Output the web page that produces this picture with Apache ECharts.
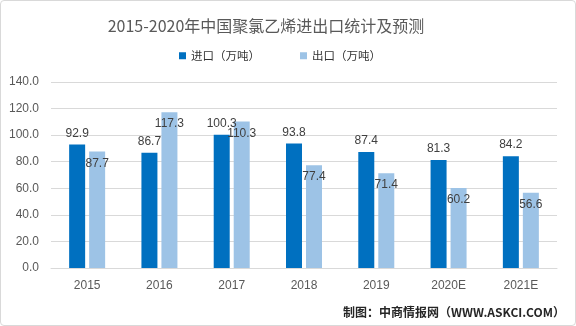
<!DOCTYPE html>
<html><head><meta charset="utf-8">
<script src="https://cdn.jsdelivr.net/npm/echarts@6/dist/echarts.min.js"></script>
<style>html,body{margin:0;padding:0;background:#fff}#c{width:574px;height:324px;border:1px solid #d9d9d9;border-radius:4px}</style>
</head><body><div id="c"></div>
<script>
const categories = ['2015','2016','2017','2018','2019','2020E','2021E'];
const importValues = [92.9, 86.7, 100.3, 93.8, 87.4, 81.3, 84.2];
const exportValues = [87.7, 117.3, 110.3, 77.4, 71.4, 60.2, 56.6];
const seriesNames = ['进口（万吨）','出口（万吨）'];
const titleText = '2015-2020年中国聚氯乙烯进出口统计及预测';
const sourceText = '制图：中商情报网（WWW.ASKCI.COM）';

const chart = echarts.init(document.getElementById('c'));
const numFont = 'Liberation Sans, Noto Sans, sans-serif';
chart.setOption({
  animation: false,
  title: {text: titleText, left: 260, textAlign: 'center', top: 12,
    textStyle: {fontFamily: 'Noto Sans CJK SC', fontSize: 16, fontWeight: 'normal', color: '#595959'}},
  legend: {top: 44, left: 173, itemWidth: 7, itemHeight: 7, itemGap: 40, icon: 'rect',
    textStyle: {fontFamily: 'Noto Sans CJK SC', fontSize: 11.5, color: '#333333'},
    data: seriesNames},
  grid: {left: 50, right: 18, top: 81, bottom: 57},
  xAxis: {type: 'category', data: categories,
    axisLine: {lineStyle: {color: '#d9d9d9'}}, axisTick: {show: false},
    axisLabel: {color: '#595959', fontFamily: numFont, fontSize: 12, margin: 12}},
  yAxis: {type: 'value', min: 0, max: 140, interval: 20,
    axisLabel: {color: '#595959', fontFamily: numFont, fontSize: 12, margin: 12, formatter: v => v.toFixed(1)},
    splitLine: {lineStyle: {color: '#d9d9d9'}}, axisLine: {show: false}},
  series: [
    {name: seriesNames[0], type: 'bar', data: importValues, barWidth: 16, barGap: '25%',
     itemStyle: {color: '#0070C0'},
     label: {show: true, position: 'top', distance: 5, color: '#404040', fontFamily: numFont, fontSize: 12, formatter: p => p.value.toFixed(1)}},
    {name: seriesNames[1], type: 'bar', data: exportValues, barWidth: 16,
     itemStyle: {color: '#9DC3E6'},
     label: {show: true, position: 'insideTop', distance: 6, color: '#404040', fontFamily: numFont, fontSize: 12, formatter: p => p.value.toFixed(1)}}
  ],
  graphic: [{type: 'text', right: 10, top: 305,
    style: {text: sourceText, fontFamily: 'Noto Sans CJK SC', fontSize: 12, fontWeight: 'bold', fill: '#262626'}}]
});
</script></body></html>
